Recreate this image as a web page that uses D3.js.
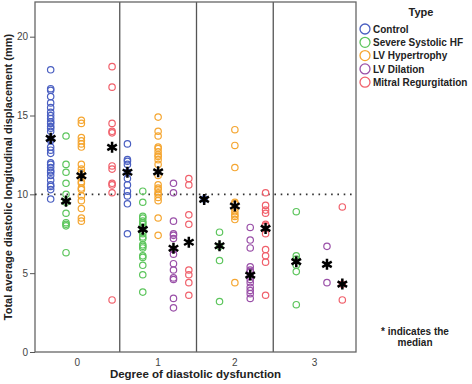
<!DOCTYPE html>
<html>
<head>
<meta charset="utf-8">
<script src="https://cdn.jsdelivr.net/npm/d3@7"></script>
<style>
    body { margin: 0; background: #fff; }
    text { font-family: 'Liberation Sans', Arial, sans-serif; }
</style>
</head>
<body>
<svg id="scatter" width="472" height="384"></svg>
<script>
// degrees of diastolic dysfunction on x
let degrees = ['0', '1', '2', '3']
let types = ['Control', 'Severe Systolic HF', 'LV Hypertrophy', 'LV Dilation', 'Mitral Regurgitation']
let colors = ['#4a5fc1', '#5cc55c', '#f5a631', '#9a50a8', '#f0606b']

// one list per degree, values in mm
let control = [
    [17.9, 16.7, 16.6, 16.2, 15.8, 15.5, 15.2, 15.0, 14.8, 14.6, 14.5, 14.3, 14.2, 14.0, 13.5, 13.4, 13.0, 12.8, 12.6, 12.0, 11.9, 11.7, 11.5, 11.4, 11.2, 10.9, 10.6, 10.5, 10.3, 9.7],
    [13.2, 12.2, 12.1, 11.9, 11.4, 11.0, 10.6, 10.2, 9.9, 9.4, 7.5],
    [9.7],
    []
]
let severe = [
    [13.7, 11.9, 11.4, 10.7, 10.0, 9.5, 8.8, 8.2, 8.1, 8.0, 6.3],
    [10.2, 9.5, 8.6, 8.5, 8.3, 8.2, 8.1, 7.9, 7.7, 7.5, 7.3, 7.2, 6.8, 6.7, 6.6, 6.1, 6.0, 5.5, 4.9, 3.8],
    [7.6, 6.7, 5.8, 3.2],
    [8.9, 6.1, 5.9, 5.5, 5.1, 3.0]
]
let hypertrophy = [
    [14.7, 14.5, 13.6, 13.4, 13.2, 13.0, 11.9, 11.6, 11.4, 11.1, 10.8, 10.7, 10.4, 10.3, 9.9, 9.6, 9.1, 8.5, 8.3],
    [14.9, 14.0, 13.7, 13.0, 12.9, 12.7, 12.5, 12.4, 12.2, 11.9, 11.2, 10.6, 10.4, 10.3, 10.1, 10.0, 9.8, 9.6, 8.5, 7.4],
    [14.1, 13.1, 11.7, 9.5, 9.4, 9.1, 8.9, 8.7, 8.6, 8.4, 4.4],
    []
]
let dilation = [
    [],
    [10.7, 10.1, 8.3, 7.5, 7.4, 7.2, 6.5, 6.2, 5.6, 5.2, 4.7, 4.6, 3.4, 2.8],
    [7.9, 7.1, 6.6, 5.4, 5.2, 5.1, 4.8, 4.6, 4.4, 4.1, 3.9, 3.7, 3.4],
    [6.7, 4.4]
]
let mitral = [
    [18.1, 16.8, 14.5, 14.0, 13.9, 11.8, 11.6, 10.7, 10.6, 10.1, 3.3],
    [11.0, 10.6, 8.7, 8.1, 5.2, 4.9, 4.4, 3.6],
    [10.1, 9.3, 9.0, 8.8, 8.1, 8.0, 7.5, 6.5, 6.1, 5.7, 3.6],
    [9.2, 4.3, 3.3]
]

// medians (asterisks) per type, per degree
let controlMedian = [13.55, 11.4, 9.68, null]
let severeMedian = [9.57, 7.78, 6.74, 5.73]
let hypertrophyMedian = [11.18, 11.43, 9.26, null]
let dilationMedian = [null, 6.58, 4.88, 5.56]
let mitralMedian = [12.98, 6.96, 7.84, 4.31]

let yTicks = [0, 5, 10, 15, 20]
let cutoff = 10

function main() {
    let series = [control, severe, hypertrophy, dilation, mitral]
    let medians = [controlMedian, severeMedian, hypertrophyMedian, dilationMedian, mitralMedian]

    let points = [], stars = []
    types.forEach((t, i) => {
        degrees.forEach((deg, j) => {
            series[i][j].forEach(v => points.push({type: t, degree: deg, value: v}))
            if (medians[i][j] != null) stars.push({type: t, degree: deg, value: medians[i][j]})
        })
    })

    let svg = d3.select('#scatter'),
        margin = {top: 2, left: 35, right: 116, bottom: 32},
        width = svg.attr('width') - margin.left - margin.right,
        height = svg.attr('height') - margin.top - margin.bottom,
        g = svg.append('g').attr('transform', 'translate(' + margin.left + ',' + margin.top + ')')

    let x = d3.scaleBand().domain(degrees).range([8, width - 6]).padding(0)
    let xi = d3.scaleBand().domain(types).range([0, x.bandwidth()]).padding(0)
    let y = d3.scaleLinear().domain([0, 22.2]).range([height, 0])
    let z = d3.scaleOrdinal().domain(types).range(colors)

    let px = d => x(d.degree) + xi(d.type) + xi.bandwidth() / 2

    // panel dividers between degrees
    g.selectAll('.divider')
        .data(degrees.slice(1))
        .enter().append('line')
        .attr('class', 'divider')
        .attr('x1', d => x(d)).attr('x2', d => x(d))
        .attr('y1', 0).attr('y2', height)
        .attr('stroke', '#555')
        .attr('stroke-width', 1.3)

    // frame
    g.append('rect')
        .attr('width', width).attr('height', height)
        .attr('fill', 'none')
        .attr('stroke', '#666')
        .attr('stroke-width', 1.3)

    // y axis
    g.append('g')
        .call(d3.axisLeft(y).tickValues(yTicks).tickSize(5).tickPadding(2))
        .call(a => a.select('.domain').remove())
        .call(a => a.selectAll('line').attr('stroke', '#555'))
        .call(a => a.selectAll('text').attr('fill', '#444').style('font-size', '10px'))

    // x labels centred in each visible panel
    let bounds = [0].concat(degrees.slice(1).map(d => x(d))).concat([width])
    g.selectAll('.xlab')
        .data(degrees)
        .enter().append('text')
        .attr('class', 'xlab')
        .attr('x', (d, i) => (bounds[i] + bounds[i + 1]) / 2)
        .attr('y', height + 14)
        .attr('text-anchor', 'middle')
        .attr('fill', '#444')
        .style('font-size', '10px')
        .text(d => d)

    // reference line at 10 mm
    g.append('line')
        .attr('x1', 0).attr('x2', width)
        .attr('y1', y(cutoff)).attr('y2', y(cutoff))
        .attr('stroke', '#333')
        .attr('stroke-width', 1.6)
        .attr('stroke-dasharray', '1.6,4.7')

    g.selectAll('.pt')
        .data(points)
        .enter().append('circle')
        .attr('class', 'pt')
        .attr('cx', px)
        .attr('cy', d => y(d.value))
        .attr('r', 3.2)
        .attr('fill', 'none')
        .attr('stroke', d => z(d.type))
        .attr('stroke-width', 1.2)

    g.selectAll('.star')
        .data(stars)
        .enter().append('path')
        .attr('class', 'star')
        .attr('transform', d => 'translate(' + px(d) + ',' + y(d.value) + ')')
        .attr('d', d3.symbol(d3.symbolAsterisk, 85))
        .attr('stroke', '#000')
        .attr('stroke-width', 2.5)

    // axis titles
    g.append('text')
        .attr('transform', 'rotate(-90)')
        .attr('x', -height / 2)
        .attr('y', -margin.left + 12)
        .attr('text-anchor', 'middle')
        .style('font-size', '11px')
        .style('font-weight', 'bold')
        .attr('fill', '#222')
        .text('Total average diastolic longitudinal displacement (mm)')

    g.append('text')
        .attr('x', width / 2)
        .attr('y', height + 26)
        .attr('text-anchor', 'middle')
        .style('font-size', '11.5px')
        .style('font-weight', 'bold')
        .attr('fill', '#222')
        .text('Degree of diastolic dysfunction')

    // legend
    let legend = svg.append('g')
        .attr('transform', 'translate(' + (margin.left + width + 9) + ',0)')

    legend.append('text')
        .attr('x', 56).attr('y', 16)
        .attr('text-anchor', 'middle')
        .style('font-size', '11px')
        .style('font-weight', 'bold')
        .attr('fill', '#222')
        .text('Type')

    let cell = legend.selectAll('.cell')
        .data(types)
        .enter().append('g')
        .attr('class', 'cell')
        .attr('transform', (d, i) => 'translate(0,' + (29 + i * 13.3) + ')')

    cell.append('circle')
        .attr('r', 5)
        .attr('fill', 'none')
        .attr('stroke', d => z(d))
        .attr('stroke-width', 1.3)

    cell.append('text')
        .attr('x', 8).attr('y', 3.6)
        .style('font-size', '10px')
        .style('font-weight', 'bold')
        .attr('fill', '#222')
        .text(d => d)

    let note = svg.append('text')
        .attr('text-anchor', 'middle')
        .style('font-size', '10px')
        .style('font-weight', 'bold')
        .attr('fill', '#222')
    note.append('tspan').attr('x', 415).attr('y', 335).text('* indicates the')
    note.append('tspan').attr('x', 415).attr('y', 346).text('median')
}

main()
</script>
</body>
</html>
